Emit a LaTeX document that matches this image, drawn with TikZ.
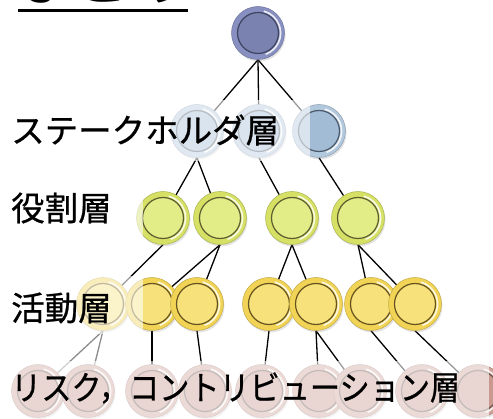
\documentclass[tikz,border=0pt]{standalone}
\usepackage{fontspec}
\setmainfont{Noto Sans CJK JP}
\newfontfamily\layerfont[FakeBold=0.7]{Noto Sans CJK JP}
\usetikzlibrary{backgrounds,shadows}
\definecolor{rootring}{HTML}{8890C2}
\definecolor{rootbody}{HTML}{7A83B0}
\definecolor{rootedge}{HTML}{3E4360}
\definecolor{stkring}{HTML}{B2C8DD}
\definecolor{stkbody}{HTML}{A3BCD5}
\definecolor{stkedge}{HTML}{4A5868}
\definecolor{rolring}{HTML}{D5E065}
\definecolor{rolbody}{HTML}{E3ED88}
\definecolor{roledge}{HTML}{5C5C30}
\definecolor{actring}{HTML}{F1D455}
\definecolor{actbody}{HTML}{F6E17A}
\definecolor{actedge}{HTML}{66521E}
\definecolor{rskring}{HTML}{CFA39A}
\definecolor{rskbody}{HTML}{C9988E}
\definecolor{rskedge}{HTML}{6A5550}
\begin{document}
\begin{tikzpicture}[x=1pt,y=-1pt,
  bead/.style n args={3}{circle, inner sep=0pt, minimum size=53pt, fill=#1, draw=#1!80!black, line width=0.5pt,
    drop shadow={opacity=.22, shadow xshift=1pt, shadow yshift=-2pt},
    path picture={
      \coordinate (pc) at (path picture bounding box.center);
      \fill[#2] (pc) circle (20.5pt);
      \draw[white, line width=1.6pt, opacity=.85] (pc) ++(-70:22.6pt) arc[start angle=-70, end angle=75, radius=22.6pt];
      \draw[#3, line width=1.2pt] (pc) circle (20.5pt);
    }},
  rootbead/.style={bead={rootring}{rootbody}{rootedge}},
  stkbead/.style={bead={stkring}{stkbody}{stkedge}},
  rolbead/.style={bead={rolring}{rolbody}{roledge}},
  actbead/.style={bead={actring}{actbody}{actedge}},
  rskbead/.style={bead={rskring}{rskbody}{rskedge}},
  link/.style={line width=1.3pt, black},
  fadelink/.style={line width=1.3pt, black!45},
  veil/.style={fill=white, fill opacity=.6},
  layer/.style={anchor=west, inner sep=0pt, font=\layerfont\fontsize{33.5}{36}\selectfont},
]
\useasboundingbox (0,0) rectangle (493,419);
\clip (0,0) rectangle (493,419);

% title (mostly cut off)
\node[anchor=base west, inner sep=0pt, font=\bfseries\fontsize{54}{56}\selectfont] (title) at (19,0) {まとめ};
\fill (18,9.5) rectangle (188,12.5);

% beads
\node[rootbead] (root) at (258,33) {};
\node[stkbead] (s1) at (197,131) {};
\node[stkbead] (s2) at (259,131) {};
\node[stkbead] (s3) at (319,131) {};
\node[rolbead] (r1) at (163,218) {};
\node[rolbead] (r2) at (220,218) {};
\node[rolbead] (r3) at (292,218) {};
\node[rolbead] (r4) at (358,218) {};
\node[actbead] (a1) at (103,304) {};
\node[actbead] (a2) at (152,304) {};
\node[actbead] (a3) at (197,304) {};
\node[actbead] (a4) at (269,304) {};
\node[actbead] (a5) at (316,304) {};
\node[actbead] (a6) at (371,304) {};
\node[actbead] (a7) at (415,304) {};
\node[rskbead] (b1) at (38,391) {};
\node[rskbead] (b2) at (88,391) {};
\node[rskbead] (b3) at (152,391) {};
\node[rskbead] (b4) at (205,391) {};
\node[rskbead] (b5) at (262,391) {};
\node[rskbead] (b6) at (319,391) {};
\node[rskbead] (b7) at (360,391) {};
\node[rskbead] (b8) at (422,391) {};
\node[rskbead] (b9) at (478,391) {};

% connectors
\begin{pgfonlayer}{background}
\draw[link] (root.south) -- (s1.center);
\draw[link] (root.south) -- (s2.center);
\draw[link] (root.south) -- (s3.center);
\draw[link] (s1.south) -- (r1.center);
\draw[link] (s1.south) -- (r2.center);
\draw[link] (s2.south) -- (r3.center);
\draw[link] (s3.south) -- (r4.center);
\draw[link] (r1.south) -- (a1.center);
\draw[link] (r2.south) -- (a2.center);
\draw[link] (r2.south) -- (a3.center);
\draw[link] (r3.south) -- (a4.center);
\draw[link] (r3.south) -- (a5.center);
\draw[link] (r4.south) -- (a6.center);
\draw[link] (r4.south) -- (a7.center);
\draw[fadelink] (a1.south) -- (b1.center);
\draw[fadelink] (a1.south) -- (b2.center);
\draw[link] (a2.south) -- (b3.center);
\draw[link] (a3.south) -- (b4.center);
\draw[link] (a4.south) -- (b5.center);
\draw[link] (a5.south) -- (b6.center);
\draw[link] (a5.south) -- (b7.center);
\draw[link] (a6.south) -- (b8.center);
\draw[link] (a7.south) -- (b9.center);
\end{pgfonlayer}

% translucent label backgrounds
\fill[veil] (8,100) rectangle (310,161);
\fill[veil] (8,188) rectangle (143,246);
\fill[veil] (8,276) rectangle (143,334);
\fill[veil] (8,361) rectangle (489,419);

% layer labels
\node[layer] (lstk) at (11,130) {ステークホルダ層};
\node[layer] (lrol) at (11,208) {役割層};
\node[layer] (lact) at (11,308) {活動層};
\node[layer] (lrsk) at (11,388) {\scalebox{0.9}[1]{リスク，コントリビューション層}};
\end{tikzpicture}
\end{document}
